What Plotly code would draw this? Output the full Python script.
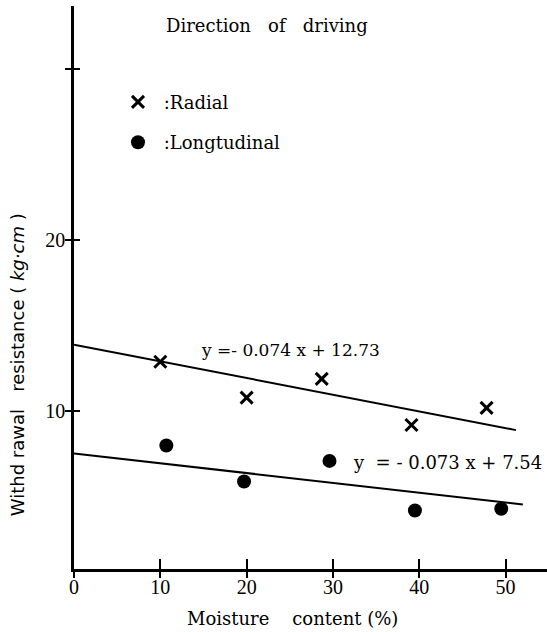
import plotly.graph_objects as go

# ---- data ----
radial_x = [10.0, 20.0, 28.7, 39.1, 47.8]
radial_y = [12.9, 10.8, 11.9, 9.2, 10.2]
long_x = [10.7, 19.7, 29.6, 39.5, 49.5]
long_y = [8.0, 5.9, 7.1, 4.2, 4.3]

# fitted lines as drawn
radial_fit_x = [0, 51.2]
radial_fit_y = [13.9, 8.9]
long_fit_x = [0, 52.0]
long_fit_y = [7.54, 4.55]

x_ticks = [0, 10, 20, 30, 40, 50]
x_ticktext = ["0", "10", "20", "30", "40", "50"]
y_ticks = [10, 20, 30]
y_ticktext = ["10", "20", ""]

X_RANGE = [0, 54.8]
Y_RANGE = [0.78, 33.7]

SERIF = "DejaVu Serif"
TICKFONT = dict(family="Liberation Serif", size=20, color="black")
NB = "\u00a0"

fig = go.Figure()

fig.add_trace(go.Scatter(
    x=radial_x, y=radial_y, mode="markers", name=NB + ":Radial",
    marker=dict(symbol="x-thin", size=12, color="black",
                line=dict(width=3, color="black")),
    legendgroup="r",
))
fig.add_trace(go.Scatter(
    x=long_x, y=long_y, mode="markers", name=NB + ":Longtudinal",
    marker=dict(symbol="circle", size=14, color="black"),
    legendgroup="l",
))
fig.add_trace(go.Scatter(
    x=radial_fit_x, y=radial_fit_y, mode="lines", showlegend=False,
    line=dict(color="black", width=2), xaxis="x2", yaxis="y2",
))
fig.add_trace(go.Scatter(
    x=long_fit_x, y=long_fit_y, mode="lines", showlegend=False,
    line=dict(color="black", width=2), xaxis="x2", yaxis="y2",
))

axis_common = dict(showgrid=False, zeroline=False)

fig.update_layout(
    width=547, height=632,
    margin=dict(l=74, r=0, t=6, b=63),
    paper_bgcolor="white", plot_bgcolor="white",
    xaxis=dict(range=X_RANGE, tickvals=x_ticks, ticktext=x_ticktext,
               ticks="outside", ticklen=6, tickwidth=2, tickcolor="black",
               ticklabelstandoff=-8,
               showline=True, linewidth=2.5, linecolor="black",
               tickfont=TICKFONT, **axis_common),
    yaxis=dict(range=Y_RANGE, tickvals=y_ticks, ticktext=y_ticktext,
               ticks="outside", ticklen=6, tickwidth=2, tickcolor="black",
               ticklabelstandoff=-4,
               showline=True, linewidth=2.5, linecolor="black",
               tickfont=TICKFONT, **axis_common),
    xaxis2=dict(range=X_RANGE, overlaying="x", anchor="y", side="bottom",
                tickvals=x_ticks[1:], ticks="inside", ticklen=10, tickwidth=2,
                tickcolor="black", showticklabels=False, showline=False,
                **axis_common),
    yaxis2=dict(range=Y_RANGE, overlaying="y", anchor="x", side="left",
                tickvals=y_ticks, ticks="inside", ticklen=6, tickwidth=2,
                tickcolor="black", showticklabels=False, showline=False,
                **axis_common),
    showlegend=True,
    legend=dict(x=0.093, y=0.862, xanchor="left", yanchor="top",
                font=dict(family=SERIF, size=18, color="black"),
                tracegroupgap=14, bgcolor="rgba(0,0,0,0)"),
    font=dict(family=SERIF, color="black"),
)

annotations = [
    dict(text="Direction" + NB * 3 + "of" + NB * 3 + "driving",
         xref="paper", yref="paper", x=0.408, y=0.9645,
         xanchor="center", yanchor="middle", showarrow=False,
         font=dict(family=SERIF, size=18, color="black")),
    dict(text="y =- 0.074 x + 12.73",
         xref="x", yref="y", x=14.5, y=13.6,
         xanchor="left", yanchor="middle", showarrow=False,
         font=dict(family=SERIF, size=17, color="black")),
    dict(text="y" + NB * 2 + "=" + NB + "-" + NB + "0.073" + NB + "x" + NB + "+" + NB + "7.54",
         xref="x", yref="y", x=32.1, y=7.0,
         xanchor="left", yanchor="middle", showarrow=False,
         font=dict(family=SERIF, size=18, color="black")),
    dict(text="Moisture" + NB * 4 + "content" + NB + "(%)",
         xref="paper", yref="paper", x=0.461, y=-0.0888,
         xanchor="center", yanchor="middle", showarrow=False,
         font=dict(family=SERIF, size=18, color="black")),
    dict(text="Withd rawal" + NB * 3 + "resistance" + NB + "(" + NB + "<i>kg·cm</i>" + NB + ")",
         xref="paper", yref="paper", x=-0.1205, y=0.362, textangle=-90,
         xanchor="center", yanchor="middle", showarrow=False,
         font=dict(family="DejaVu Sans", size=18, color="black")),
]
fig.update_layout(annotations=annotations)

fig.write_html("out.html", config={"displayModeBar": False},
               post_script="document.body.style.margin='0px';")
